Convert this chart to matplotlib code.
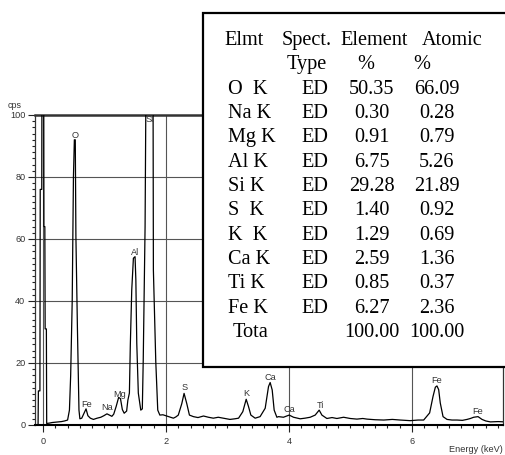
import matplotlib
matplotlib.use('Agg')
import matplotlib.pyplot as plt
from matplotlib.patches import Rectangle
from matplotlib.ticker import MultipleLocator

# ---- spectrum (keV, cps) ----
energy = [-0.09, -0.08, -0.075, -0.05, -0.045, -0.02, -0.015, 0.01, 0.015, 0.03, 0.035, 0.055,
          0.06, 0.10, 0.15, 0.20, 0.25, 0.30, 0.35, 0.40, 0.43, 0.45, 0.475, 0.495, 0.51, 0.525,
          0.535, 0.56, 0.585, 0.60, 0.63, 0.66, 0.70, 0.73, 0.77, 0.82, 0.88, 0.94, 0.99, 1.04,
          1.08, 1.12, 1.15, 1.19, 1.23, 1.26, 1.29, 1.32, 1.36, 1.38, 1.405, 1.42, 1.443, 1.47,
          1.497, 1.51, 1.525, 1.55, 1.59, 1.615, 1.63, 1.66, 1.69, 1.785, 1.795, 1.834, 1.866,
          1.90, 1.95, 2.01, 2.07, 2.12, 2.16, 2.20, 2.257, 2.294, 2.338, 2.381, 2.446, 2.52,
          2.61, 2.69, 2.77, 2.85, 2.93, 3.04, 3.12, 3.18, 3.249, 3.304, 3.341, 3.38, 3.45, 3.53,
          3.613, 3.667, 3.694, 3.727, 3.759, 3.803, 3.83, 3.91, 4.003, 4.074, 4.182, 4.26, 4.345,
          4.426, 4.491, 4.535, 4.616, 4.70, 4.779, 4.888, 4.996, 5.105, 5.20, 5.268, 5.40, 5.54,
          5.68, 5.81, 5.972, 6.10, 6.19, 6.287, 6.342, 6.38, 6.406, 6.434, 6.46, 6.505, 6.57,
          6.65, 6.732, 6.82, 6.895, 6.95, 7.003, 7.074, 7.139, 7.20, 7.275, 7.40, 7.52]
counts = [0, 0, 11, 11, 76, 76, 140, 140, 64, 64, 31, 31,
          0.5, 0.6, 0.8, 0.9, 1.0, 1.1, 1.3, 1.6, 4.8, 16, 40, 80, 92, 92,
          61, 31, 4.8, 2.0, 2.2, 3.5, 5.2, 3.0, 2.2, 1.8, 2.2, 2.5, 3.0, 3.6,
          3.2, 2.8, 3.5, 6.0, 8.9, 8.5, 5.0, 3.8, 4.5, 8.0, 10.3, 25.8, 43.5, 53.8,
          54.3, 46.8, 26.3, 10.3, 4.8, 5.2, 21, 64, 160, 160, 50, 20.4, 4.8,
          3.2, 3.3, 2.9, 2.5, 2.2, 2.6, 3.2, 6.9, 10.2, 6.9, 3.2, 2.7, 2.4,
          2.9, 2.5, 2.2, 2.5, 2.2, 1.8, 2.0, 2.2, 4.3, 8.3, 6.0, 3.2, 2.2, 2.7,
          5.4, 12.4, 13.7, 11.3, 4.8, 2.5, 2.7, 2.5, 3.2, 2.5, 2.0, 2.2, 2.5,
          3.2, 4.8, 3.2, 2.1, 2.4, 2.1, 2.5, 2.1, 1.9, 2.1, 1.9, 1.7, 1.6,
          1.8, 1.6, 1.4, 1.6, 1.6, 3.9, 9.2, 12.2, 12.6, 11.4, 7.1, 2.7, 1.8,
          1.6, 1.6, 1.5, 1.8, 2.1, 2.5, 2.7, 1.8, 1.3, 1.0, 1.1, 1.0]

# ---- peak labels ----
peak_names = ['O', 'Fe', 'Na', 'Mg', 'Al', 'Si', 'S', 'K', 'Ca', 'Ca', 'Ti', 'Fe', 'Fe']
peak_energy = [0.525, 0.705, 1.04, 1.25, 1.49, 1.74, 2.31, 3.31, 3.69, 4.01, 4.51, 6.40, 7.06]
peak_label_y = [93.5, 6.5, 5.5, 9.9, 55.8, 98.4, 12.0, 10.0, 15.3, 5.0, 6.3, 14.3, 4.3]

# ---- quantification table ----
header1 = ['Elmt', 'Spect.', 'Element', 'Atomic']
header2 = ['Type', '%', '%']
elements = ['O  K', 'Na K', 'Mg K', 'Al K', 'Si K', 'S  K', 'K  K', 'Ca K', 'Ti K', 'Fe K', 'Tota']
spect_type = ['ED', 'ED', 'ED', 'ED', 'ED', 'ED', 'ED', 'ED', 'ED', 'ED', '']
element_pct = ['50.35', '0.30', '0.91', '6.75', '29.28', '1.40', '1.29', '2.59', '0.85', '6.27', '100.00']
atomic_pct = ['66.09', '0.28', '0.79', '5.26', '21.89', '0.92', '0.69', '1.36', '0.37', '2.36', '100.00']

W, H = 506, 455
fig = plt.figure(figsize=(W / 100, H / 100), dpi=100)
sans = ['Liberation Sans', 'DejaVu Sans']
serif = ['Liberation Serif', 'DejaVu Serif']

ax = fig.add_axes([35 / W, 1 - 425 / H, 468 / W, 310 / H])
ax.plot(energy, counts, color='black', lw=0.9, zorder=3)
ax.set_xlim(-0.13, 7.48)
ax.set_ylim(0, 100)

ax.xaxis.set_major_locator(MultipleLocator(2))
ax.xaxis.set_minor_locator(MultipleLocator(0.2))
ax.yaxis.set_major_locator(MultipleLocator(20))
ax.yaxis.set_minor_locator(MultipleLocator(2))
ax.tick_params(which='major', direction='out', length=5, width=0.8, labelsize=6.6, pad=2, color='#222')
ax.tick_params(which='minor', direction='out', length=2.5, width=0.8, color='#222')
ax.tick_params(axis='x', which='major', pad=4)
for lab in ax.get_xticklabels() + ax.get_yticklabels():
    lab.set_family(sans)
    lab.set_color('#333')
ax.grid(True, which='major', color='#555555', lw=0.8, zorder=1)

for side in ['left', 'right']:
    ax.spines[side].set_linewidth(0.9)
    ax.spines[side].set_color('#333')
ax.spines['top'].set_linewidth(1.8)
ax.spines['top'].set_color('#333')
ax.spines['bottom'].set_linewidth(1.5)
ax.spines['bottom'].set_color('black')

for name, e, yv in zip(peak_names, peak_energy, peak_label_y):
    ax.text(e, yv, name, ha='center', va='center', fontsize=6.6, family=sans, color='#333', zorder=4)

fig.text(15 / W, 1 - 106 / H, 'cps', ha='center', va='center', fontsize=6.4, family=sans, color='#333')
fig.text(503 / W, 1 - 449 / H, 'Energy (keV)', ha='right', va='center', fontsize=6.6, family=sans, color='#333')

# table box
rect = Rectangle((203 / W, 1 - 367 / H), 310 / W, (367 - 13) / H, transform=fig.transFigure,
                 facecolor='white', edgecolor='black', lw=1.6, zorder=5)
fig.add_artist(rect)

fs = 14.6
def put(x, ybase, s, ha='left'):
    fig.text(x / W, 1 - ybase / H, s, ha=ha, va='baseline', fontsize=fs, family=serif,
             color='black', zorder=6)

put(224, 45, header1[0])
put(281.7, 45, header1[1])
put(340, 45, header1[2])
put(421.7, 45, header1[3])
put(287, 69.3, header2[0])
put(366, 69.3, header2[1], ha='center')
put(421.5, 69.3, header2[2], ha='center')

for i in range(len(elements)):
    yb = 93.7 + 24.35 * i
    put(228 if i < 10 else 232.7, yb, elements[i])
    if spect_type[i]:
        put(315, yb, spect_type[i], ha='center')
    put(372, yb, element_pct[i], ha='center')
    put(437, yb, atomic_pct[i], ha='center')

fig.savefig('out.png', dpi=100)
